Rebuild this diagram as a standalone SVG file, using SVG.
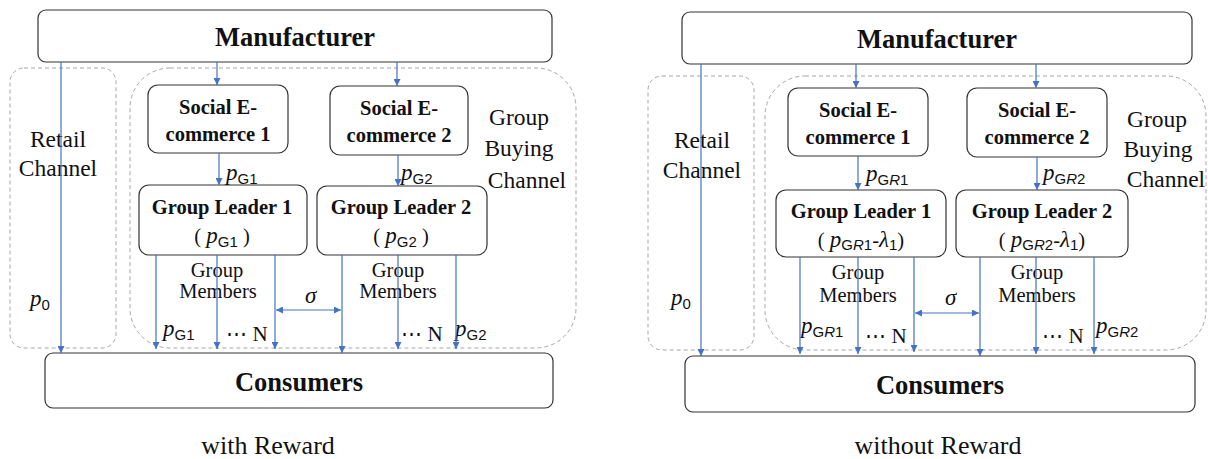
<svg xmlns="http://www.w3.org/2000/svg" width="1208" height="459" viewBox="0 0 1208 459">
<style>
.box{fill:#fff;stroke:#333;stroke-width:1.2}
.dash{fill:none;stroke:#a6a6a6;stroke-width:1;stroke-dasharray:4 3}
.arr{stroke:#4472c4;stroke-width:1.2;fill:none;marker-end:url(#ah)}
.dbl{stroke:#4472c4;stroke-width:1.2;fill:none;marker-end:url(#ah);marker-start:url(#ahs)}
.t{font-family:"Liberation Serif",serif;fill:#111;text-anchor:middle}
.big{font-size:26.5px;font-weight:bold}
.bold{font-size:20.5px;font-weight:bold}
.reg{font-size:23.5px}
.mem{font-size:20.5px}
.cap{font-size:26px}
.dots{font-size:21px}
.m{font-family:"Liberation Serif",serif;font-style:italic;font-size:23px;fill:#111}
.sub{font-family:"Liberation Sans",sans-serif;font-style:normal;font-size:15px}
</style>
<defs>
<marker id="ah" viewBox="0 0 10 10" refX="10" refY="5" markerWidth="7" markerHeight="7" markerUnits="userSpaceOnUse" orient="auto"><path d="M0,0 L10,5 L0,10 z" fill="#4472c4"/></marker>
<marker id="ahs" viewBox="0 0 10 10" refX="0" refY="5" markerWidth="7" markerHeight="7" markerUnits="userSpaceOnUse" orient="auto"><path d="M10,0 L0,5 L10,10 z" fill="#4472c4"/></marker>
</defs>

<!-- LEFT PANEL -->
<g id="L-retail-channel"><rect class="dash" x="10" y="68" width="106" height="280" rx="14"/><text class="t reg" x="58" y="147">Retail</text><text class="t reg" x="58" y="176">Channel</text></g>
<g id="L-group-channel"><rect class="dash" x="130" y="68" width="446" height="280" rx="40"/><text class="t reg" x="519" y="125">Group</text><text class="t reg" x="519" y="156">Buying</text><text class="t reg" x="527" y="188">Channel</text></g>
<g id="L-manufacturer"><rect class="box" x="38" y="10" width="514" height="52" rx="8"/><text class="t big" x="295" y="46">Manufacturer</text></g>
<g id="L-se1"><rect class="box" x="148" y="85" width="140" height="68" rx="10"/><text class="t bold" x="218" y="114">Social E-</text><text class="t bold" x="218" y="141">commerce 1</text></g>
<g id="L-se2"><rect class="box" x="330" y="86" width="138" height="69" rx="10"/><text class="t bold" x="399" y="115">Social E-</text><text class="t bold" x="399" y="142">commerce 2</text></g>
<g id="L-gl1"><rect class="box" x="139" y="185" width="168" height="70" rx="10"/><text class="t bold" x="222" y="214">Group Leader 1</text><text class="t mem" x="222" y="243">( <tspan class="m">p<tspan class="sub" dy="4">G1</tspan></tspan><tspan dy="-4"> )</tspan></text></g>
<g id="L-gl2"><rect class="box" x="317" y="186" width="170" height="69" rx="10"/><text class="t bold" x="401" y="214">Group Leader 2</text><text class="t mem" x="401" y="243">( <tspan class="m">p<tspan class="sub" dy="4">G2</tspan></tspan><tspan dy="-4"> )</tspan></text></g>
<g id="L-consumers"><rect class="box" x="45" y="353" width="508" height="55" rx="8"/><text class="t big" x="299" y="391">Consumers</text></g>
<g id="L-labels">
<text class="t mem" x="217" y="277">Group</text><text class="t mem" x="218" y="298">Members</text>
<text class="t mem" x="398" y="277">Group</text><text class="t mem" x="398" y="298">Members</text>
<text class="m" x="30" y="306">p<tspan class="sub" dy="4">0</tspan></text>
<text class="m" x="226" y="180">p<tspan class="sub" dy="4">G1</tspan></text>
<text class="m" x="401" y="180">p<tspan class="sub" dy="4">G2</tspan></text>
<text class="m" x="163" y="336">p<tspan class="sub" dy="4">G1</tspan></text>
<text class="m" x="455" y="336">p<tspan class="sub" dy="4">G2</tspan></text>
<text class="m" x="305" y="303">σ</text>
<text class="t dots" x="247" y="341">⋯ N</text>
<text class="t dots" x="422" y="341">⋯ N</text>
<text class="t cap" x="268" y="454">with Reward</text>
</g>
<g id="L-connectors">
<line class="arr" x1="217" y1="62" x2="217" y2="85"/>
<line class="arr" x1="397" y1="62" x2="397" y2="86"/>
<line class="arr" x1="219" y1="153" x2="219" y2="185"/>
<line class="arr" x1="398" y1="155" x2="398" y2="186"/>
<line class="arr" x1="61" y1="62" x2="61" y2="353"/>
<line class="arr" x1="156" y1="255" x2="156" y2="349"/>
<line class="arr" x1="217" y1="255" x2="217" y2="349"/>
<line class="arr" x1="275" y1="255" x2="275" y2="349"/>
<line class="arr" x1="342" y1="255" x2="342" y2="353"/>
<line class="arr" x1="398" y1="255" x2="398" y2="349"/>
<line class="arr" x1="456" y1="255" x2="456" y2="349"/>
<line class="dbl" x1="276" y1="310" x2="341" y2="310"/>
</g>

<!-- RIGHT PANEL -->
<g id="R-retail-channel"><rect class="dash" x="648" y="76" width="106" height="274" rx="14"/><text class="t reg" x="702" y="148">Retail</text><text class="t reg" x="702" y="178">Channel</text></g>
<g id="R-group-channel"><rect class="dash" x="765" y="76" width="441" height="274" rx="40"/><text class="t reg" x="1157" y="127">Group</text><text class="t reg" x="1158" y="157">Buying</text><text class="t reg" x="1166" y="187">Channel</text></g>
<g id="R-manufacturer"><rect class="box" x="682" y="12" width="510" height="52" rx="8"/><text class="t big" x="937" y="48">Manufacturer</text></g>
<g id="R-se1"><rect class="box" x="788" y="88" width="140" height="68" rx="10"/><text class="t bold" x="858" y="117">Social E-</text><text class="t bold" x="858" y="144">commerce 1</text></g>
<g id="R-se2"><rect class="box" x="967" y="88" width="140" height="69" rx="10"/><text class="t bold" x="1037" y="117">Social E-</text><text class="t bold" x="1037" y="144">commerce 2</text></g>
<g id="R-gl1"><rect class="box" x="776" y="190" width="170" height="67" rx="10"/><text class="t bold" x="861" y="218">Group Leader 1</text><text class="t mem" x="861" y="247">( <tspan class="m" font-size="20">p<tspan class="sub" font-size="13" dy="3">G<tspan font-style="italic">R</tspan>1</tspan></tspan><tspan dy="-3">-</tspan><tspan class="m" font-size="20">λ<tspan class="sub" font-size="12" dy="3">1</tspan></tspan><tspan dy="-3">)</tspan></text></g>
<g id="R-gl2"><rect class="box" x="956" y="190" width="172" height="67" rx="10"/><text class="t bold" x="1042" y="218">Group Leader 2</text><text class="t mem" x="1042" y="247">( <tspan class="m" font-size="20">p<tspan class="sub" font-size="13" dy="3">G<tspan font-style="italic">R</tspan>2</tspan></tspan><tspan dy="-3">-</tspan><tspan class="m" font-size="20">λ<tspan class="sub" font-size="12" dy="3">1</tspan></tspan><tspan dy="-3">)</tspan></text></g>
<g id="R-consumers"><rect class="box" x="685" y="356" width="510" height="56" rx="8"/><text class="t big" x="940" y="394">Consumers</text></g>
<g id="R-labels">
<text class="t mem" x="858" y="279">Group</text><text class="t mem" x="858" y="302">Members</text>
<text class="t mem" x="1037" y="279">Group</text><text class="t mem" x="1037" y="302">Members</text>
<text class="m" x="671" y="305">p<tspan class="sub" dy="4">0</tspan></text>
<text class="m" x="866" y="181">p<tspan class="sub" dy="4">G<tspan font-style="italic">R</tspan>1</tspan></text>
<text class="m" x="1043" y="180">p<tspan class="sub" dy="4">G<tspan font-style="italic">R</tspan>2</tspan></text>
<text class="m" x="801" y="333">p<tspan class="sub" dy="4">G<tspan font-style="italic">R</tspan>1</tspan></text>
<text class="m" x="1096" y="333">p<tspan class="sub" dy="4">G<tspan font-style="italic">R</tspan>2</tspan></text>
<text class="m" x="945" y="305">σ</text>
<text class="t dots" x="886" y="343">⋯ N</text>
<text class="t dots" x="1063" y="343">⋯ N</text>
<text class="t cap" x="938" y="454">without Reward</text>
</g>
<g id="R-connectors">
<line class="arr" x1="856" y1="64" x2="856" y2="88"/>
<line class="arr" x1="1036" y1="64" x2="1036" y2="88"/>
<line class="arr" x1="858" y1="156" x2="858" y2="190"/>
<line class="arr" x1="1037" y1="157" x2="1037" y2="190"/>
<line class="arr" x1="701" y1="64" x2="701" y2="356"/>
<line class="arr" x1="800" y1="257" x2="800" y2="354"/>
<line class="arr" x1="858" y1="257" x2="858" y2="354"/>
<line class="arr" x1="914" y1="257" x2="914" y2="352"/>
<line class="arr" x1="980" y1="257" x2="980" y2="356"/>
<line class="arr" x1="1036" y1="257" x2="1036" y2="354"/>
<line class="arr" x1="1094" y1="257" x2="1094" y2="354"/>
<line class="dbl" x1="915" y1="313" x2="979" y2="313"/>
</g>
</svg>
